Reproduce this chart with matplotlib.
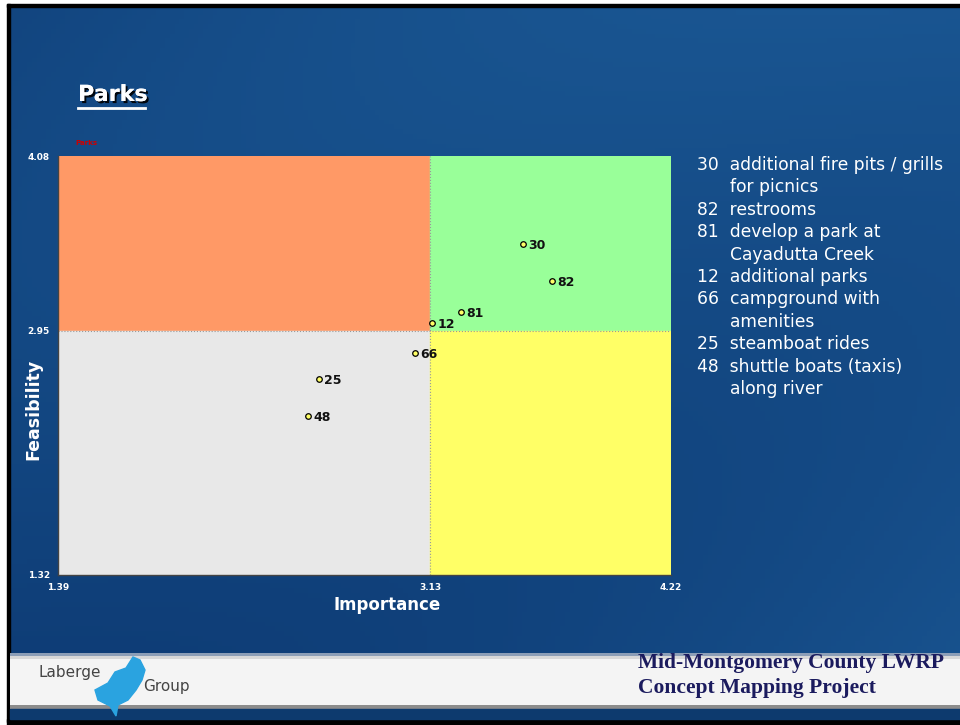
import numpy as np
import matplotlib.pyplot as plt
import matplotlib.patheffects as pe
from matplotlib.patches import Rectangle, Polygon

# statement ids and their (importance, feasibility) ratings
ids = ["30", "82", "81", "12", "66", "25", "48"]
importance = [3.55, 3.68, 3.27, 3.14, 3.06, 2.61, 2.56]
feasibility = [3.51, 3.27, 3.07, 3.00, 2.80, 2.63, 2.38]

x_min, x_mid, x_max = 1.39, 3.13, 4.22
y_min, y_mid, y_max = 1.32, 2.95, 4.08

legend_lines = [
    "30  additional fire pits / grills",
    "      for picnics",
    "82  restrooms",
    "81  develop a park at",
    "      Cayadutta Creek",
    "12  additional parks",
    "66  campground with",
    "      amenities",
    "25  steamboat rides",
    "48  shuttle boats (taxis)",
    "      along river",
]

fig = plt.figure(figsize=(9.6, 7.25), dpi=100)
fig.patch.set_facecolor("white")

# -------- slide background --------
bg = fig.add_axes([0, 0, 1, 1])
bg.set_xlim(0, 960)
bg.set_ylim(725, 0)
bg.axis("off")
gx = np.linspace(0, 1, 200)
gy = np.linspace(0, 1, 150)
GX, GY = np.meshgrid(gx, gy)
shade = 0.45 + 0.3 * GX - 0.1 * GY + 0.12 * np.sin(GY * 4.0 + GX * 3.0)
c0 = np.array([0.03, 0.18, 0.40])
c1 = np.array([0.12, 0.38, 0.62])
img = c0[None, None, :] + (c1 - c0)[None, None, :] * shade[:, :, None]
bg.imshow(np.clip(img, 0, 1), extent=[8, 960, 722, 5], aspect="auto", zorder=0)
# black frame
bg.add_patch(Rectangle((7, 4), 3, 718, color="black", zorder=1))
bg.add_patch(Rectangle((7, 4), 953, 3, color="black", zorder=1))
bg.add_patch(Rectangle((7, 719), 953, 6, color="black", zorder=1))
# footer band
band_img = np.ones((56, 2, 3)) * 0.96
band_img[:3] = [0.55, 0.62, 0.72]
band_img[3:6] = 0.85
band_img[-4:] = 0.55
bg.imshow(band_img, extent=[10, 960, 709, 653], aspect="auto", zorder=1)
bg.add_patch(Rectangle((10, 709), 950, 10, color="#0d3a6e", zorder=2))

# logo
bg.text(38, 672, "Laberge", fontsize=11, color="#444444", family="DejaVu Sans",
        va="center", zorder=3)
bg.text(143, 686, "Group", fontsize=11, color="#444444", family="DejaVu Sans",
        va="center", zorder=3)
bg.add_patch(Polygon([(95, 690), (108, 683), (115, 672), (126, 668), (133, 657),
                      (140, 660), (145, 670), (142, 680), (136, 690), (128, 700),
                      (118, 705), (116, 716), (110, 706), (98, 700)],
                     closed=True, color="#2aa3e0", zorder=3))

bg.text(638, 663, "Mid-Montgomery County LWRP", fontsize=15.5, fontweight="bold",
        family="Liberation Serif", color="#1b1b5e", va="center", zorder=3)
bg.text(638, 688, "Concept Mapping Project", fontsize=15.5, fontweight="bold",
        family="Liberation Serif", color="#1b1b5e", va="center", zorder=3)

# slide title
bg.text(78, 95, "Parks", fontsize=16, fontweight="bold", color="white",
        va="center", zorder=4,
        path_effects=[pe.withSimplePatchShadow(offset=(1.5, -1.5), shadow_rgbFace="black", alpha=0.9),
                      pe.Normal()])
bg.plot([78, 145], [108, 108], color="white", lw=2, zorder=4)
bg.text(75, 143, "Parks", fontsize=5, fontweight="bold", color="#cc0000",
        va="center", zorder=3)

# legend text on the right
for i, line in enumerate(legend_lines):
    bg.text(697, 165 + i * 22.4, line, fontsize=12.3, color="white",
            family="DejaVu Sans", va="center", zorder=3)

# -------- Go-zone chart --------
# piecewise linear scales: the means sit where the slide puts them
x_px = [0, 372, 613]
y_px = [0, 244, 419]


def xf(v):
    return np.interp(v, [x_min, x_mid, x_max], x_px, left=np.nan, right=np.nan)


def xi(v):
    return np.interp(v, x_px, [x_min, x_mid, x_max])


def yf(v):
    return np.interp(v, [y_min, y_mid, y_max], y_px, left=np.nan, right=np.nan)


def yi(v):
    return np.interp(v, y_px, [y_min, y_mid, y_max])


ax = fig.add_axes([58 / 960, 1 - 575 / 725, 613 / 960, 419 / 725])
ax.set_xscale("function", functions=(xf, xi))
ax.set_yscale("function", functions=(yf, yi))
ax.set_xlim(x_min, x_max)
ax.set_ylim(y_min, y_max)
ax.add_patch(Rectangle((x_min, y_mid), x_mid - x_min, y_max - y_mid, color="#ff9966", zorder=0))
ax.add_patch(Rectangle((x_mid, y_mid), x_max - x_mid, y_max - y_mid, color="#99ff99", zorder=0))
ax.add_patch(Rectangle((x_min, y_min), x_mid - x_min, y_mid - y_min, color="#e8e8e8", zorder=0))
ax.add_patch(Rectangle((x_mid, y_min), x_max - x_mid, y_mid - y_min, color="#ffff66", zorder=0))
ax.axvline(x_mid, color="#999999", lw=0.8, ls=":", zorder=1)
ax.axhline(y_mid, color="#999999", lw=0.8, ls=":", zorder=1)

ax.scatter(importance, feasibility, s=16, facecolor="#ffff66", edgecolor="black",
           linewidth=0.9, zorder=3)
for name, xv, yv in zip(ids, importance, feasibility):
    ax.annotate(name, (xv, yv), xytext=(4, -1), textcoords="offset points",
                fontsize=9, fontweight="bold", color="#111111", va="center", zorder=4)

ax.set_xticks([x_min, x_mid, x_max])
ax.set_xticklabels([f"{v:.2f}" for v in [x_min, x_mid, x_max]])
ax.set_yticks([y_min, y_mid, y_max])
ax.set_yticklabels([f"{v:.2f}" for v in [y_min, y_mid, y_max]])
ax.xaxis.set_minor_locator(plt.NullLocator())
ax.yaxis.set_minor_locator(plt.NullLocator())
ax.tick_params(length=0, labelsize=6.5, labelcolor="white", pad=6)
for lab in ax.get_xticklabels() + ax.get_yticklabels():
    lab.set_fontweight("bold")
for side in ["top", "right"]:
    ax.spines[side].set_visible(False)
for side in ["left", "bottom"]:
    ax.spines[side].set_color("#444444")
    ax.spines[side].set_linewidth(1)

ax.set_xlabel("Importance", fontsize=12, fontweight="bold", color="white")
ax.xaxis.set_label_coords(0.537, -0.05)
ax.set_ylabel("Feasibility", fontsize=12.5, fontweight="bold", color="white")
ax.yaxis.set_label_coords(-0.025, 0.396)

fig.savefig("out.png", dpi=100)
